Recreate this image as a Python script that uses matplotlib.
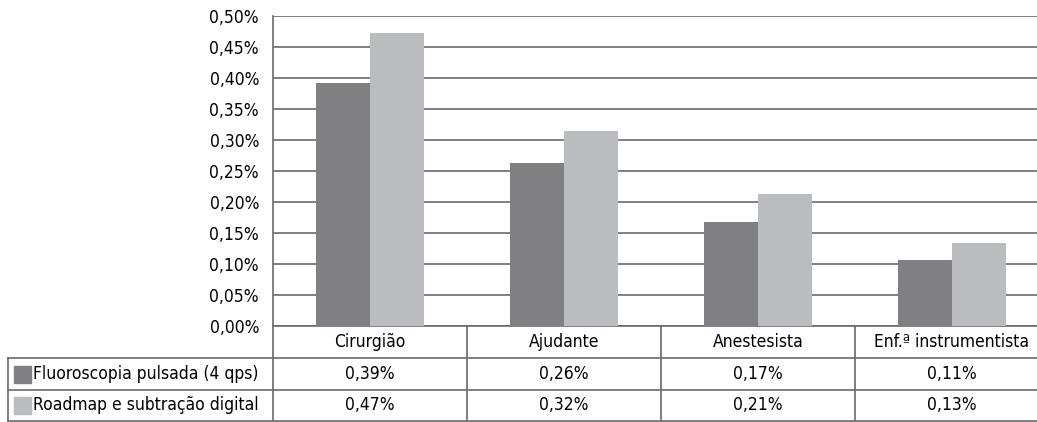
import numpy as np
import matplotlib.pyplot as plt
from matplotlib.patches import Rectangle

plt.rcParams['font.family'] = ['DejaVu Sans']
plt.rcParams['font.stretch'] = 'condensed'

# Data
categories = ['Cirurgião', 'Ajudante', 'Anestesista', 'Enf.ª instrumentista']
series_names = ['Fluoroscopia pulsada (4 qps)', 'Roadmap e subtração digital']
fluoro = [0.392, 0.263, 0.167, 0.106]
roadmap = [0.473, 0.315, 0.213, 0.134]
yticks = [0.0, 0.05, 0.10, 0.15, 0.20, 0.25, 0.30, 0.35, 0.40, 0.45, 0.50]

colors = ['#808084', '#bbbcc0']
line_col = '#6a6a6a'
fs = 12.5

W, H = 1037, 422
fig = plt.figure(figsize=(W / 100, H / 100), dpi=100)
# axes spans 273..1049 px horizontally (cut at the image edge), 16..326 px vertically
ax = fig.add_axes([273 / W, (H - 326) / H, 776 / W, 310 / H])

x = np.arange(len(categories))
bw = 0.28
ax.bar(x - bw / 2, fluoro, bw, color=colors[0], zorder=3)
ax.bar(x + bw / 2, roadmap, bw, color=colors[1], zorder=3)

ax.set_xlim(-0.5, len(categories) - 0.5)
ax.set_ylim(0, 0.5)
ax.set_yticks(yticks)
ax.set_yticklabels([('%.2f%%' % v).replace('.', ',') for v in yticks], fontsize=fs)
ax.tick_params(axis='y', length=0, pad=10)
ax.set_xticks([])
ax.yaxis.grid(True, color=line_col, linewidth=1.2, zorder=0)
for s in ['top', 'right', 'bottom']:
    ax.spines[s].set_visible(False)
ax.spines['left'].set_color(line_col)
ax.spines['left'].set_linewidth(1.2)

# Data table below the chart
tr = ax.get_xaxis_transform()
unit = 194.0  # px per category
px_h = 310.0
row_y = [0, -32 / px_h, -64 / px_h, -95 / px_h]
x_left = -0.5 - 265 / unit
x_right = len(categories) - 0.5
kw = dict(transform=tr, color=line_col, linewidth=1.2, clip_on=False)

ax.plot([-0.5, x_right], [0, 0], **kw)
for yy in row_y[1:]:
    ax.plot([x_left, x_right], [yy, yy], **kw)
ax.plot([-0.5, -0.5], [0, row_y[3]], **kw)
ax.plot([x_left, x_left], [row_y[1], row_y[3]], **kw)
for i in range(1, len(categories)):
    ax.plot([i - 0.5, i - 0.5], [0, row_y[3]], **kw)

for i, c in enumerate(categories):
    ax.text(i, (row_y[0] + row_y[1]) / 2, c, transform=tr, ha='center', va='center',
            fontsize=fs, clip_on=False)

for r, (name, vals) in enumerate(zip(series_names, [fluoro, roadmap])):
    yc = (row_y[r + 1] + row_y[r + 2]) / 2
    sq_w = 17 / unit
    sq_h = 17 / px_h
    ax.add_patch(Rectangle((x_left + 6 / unit, yc - sq_h / 2), sq_w, sq_h, transform=tr,
                           color=colors[r], clip_on=False))
    ax.text(x_left + 25 / unit, yc, name, transform=tr, ha='left', va='center',
            fontsize=fs, clip_on=False)
    for i, v in enumerate(vals):
        ax.text(i, yc, ('%.2f%%' % v).replace('.', ','), transform=tr, ha='center',
                va='center', fontsize=fs, clip_on=False)

fig.savefig('out.png', dpi=100)
